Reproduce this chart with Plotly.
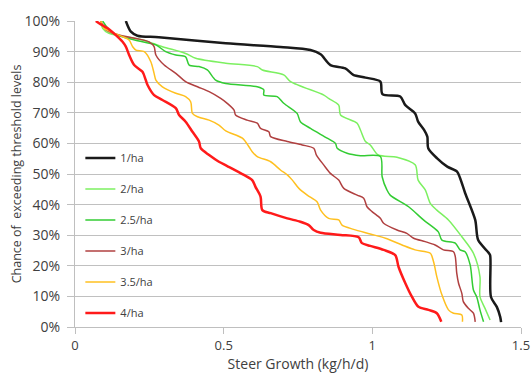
import plotly.graph_objects as go

# Series: steer growth (kg/h/d) vs chance of exceeding (%)
names = ["1/ha", "2/ha", "2.5/ha", "3/ha", "3.5/ha", "4/ha"]
colors = ["#1a1a1a", "#7CF060", "#33CC33", "#B04040", "#FFC020", "#FF1A1A"]
widths = [2.5, 1.5, 1.5, 1.5, 1.5, 2.5]

x_1ha = [0.171, 0.188, 0.210, 0.282, 0.507, 0.691, 0.792, 0.826, 0.859, 0.909, 0.936, 0.977, 1.027,
         1.034, 1.094, 1.111, 1.144, 1.154, 1.174, 1.185, 1.188, 1.218, 1.252, 1.285, 1.295, 1.312,
         1.346, 1.356, 1.389, 1.396, 1.399, 1.419, 1.430, 1.433]
y_1ha = [100, 96.5, 95.2, 94.7, 92.7, 91.5, 90.5, 89.1, 85.6, 84.5, 82.4, 81.5, 80.2,
         76.1, 75.3, 72.5, 69.8, 67.1, 64.4, 62.2, 58.4, 55.1, 52.4, 50.8, 48.7, 43.8,
         35.0, 28.4, 24.5, 23.5, 9.8, 6.5, 3.3, 1.6]

x_2ha = [0.087, 0.093, 0.114, 0.227, 0.294, 0.372, 0.406, 0.507, 0.613, 0.630, 0.702, 0.725, 0.837,
         0.853, 0.887, 0.893, 0.949, 0.960, 0.977, 0.993, 1.020, 1.083, 1.144, 1.154, 1.178, 1.195,
         1.217, 1.256, 1.301, 1.340, 1.362, 1.362, 1.379, 1.396]
y_2ha = [100, 97.6, 96.0, 93.8, 91.6, 89.4, 87.8, 86.2, 85.1, 84.0, 82.4, 80.2, 75.8,
         74.7, 72.5, 69.3, 66.6, 64.4, 60.6, 59.5, 56.2, 55.5, 53.0, 48.0, 44.8, 40.4,
         38.2, 35.0, 29.5, 24.1, 16.4, 9.9, 6.1, 2.3]

x_25ha = [0.093, 0.127, 0.227, 0.272, 0.305, 0.339, 0.372, 0.384, 0.417, 0.445, 0.473, 0.507, 0.613,
          0.635, 0.635, 0.680, 0.702, 0.747, 0.758, 0.792, 0.848, 0.876, 0.882, 0.915, 0.960, 1.027,
          1.033, 1.049, 1.060, 1.122, 1.172, 1.222, 1.234, 1.279, 1.295, 1.312, 1.329, 1.340, 1.351,
          1.362, 1.374]
y_25ha = [100, 96.0, 93.2, 92.2, 90.0, 88.9, 88.3, 85.6, 85.1, 84.0, 80.7, 79.6, 78.5,
          77.5, 75.8, 75.3, 73.1, 69.8, 67.1, 64.9, 61.7, 60.0, 58.4, 56.8, 56.0, 55.7,
          49.1, 44.8, 43.1, 39.3, 35.0, 31.1, 28.4, 27.4, 25.2, 24.6, 20.3, 12.1, 9.9,
          5.6, 1.7]

x_3ha = [0.087, 0.104, 0.149, 0.205, 0.249, 0.266, 0.272, 0.300, 0.339, 0.372, 0.412, 0.451, 0.490,
         0.512, 0.535, 0.540, 0.579, 0.613, 0.624, 0.652, 0.658, 0.714, 0.764, 0.803, 0.812, 0.837,
         0.859, 0.887, 0.904, 0.949, 0.971, 0.982, 0.999, 1.027, 1.038, 1.083, 1.116, 1.139, 1.178,
         1.211, 1.239, 1.273, 1.279, 1.284, 1.290, 1.301, 1.306, 1.323, 1.340, 1.346]
y_3ha = [100, 97.1, 95.4, 94.3, 93.2, 91.6, 88.9, 85.6, 82.9, 80.2, 78.5, 76.9, 74.7,
         73.1, 70.9, 69.3, 67.6, 66.6, 64.9, 63.8, 62.2, 60.6, 59.5, 58.4, 56.2, 52.9,
         50.2, 48.0, 45.3, 43.1, 42.1, 39.3, 37.7, 35.5, 33.9, 31.7, 30.6, 29.0, 27.9,
         26.8, 25.2, 24.6, 23.0, 17.5, 14.3, 11.0, 8.3, 6.1, 4.5, 1.7]

x_35ha = [0.087, 0.098, 0.160, 0.182, 0.194, 0.205, 0.233, 0.255, 0.266, 0.272, 0.294, 0.339, 0.372,
          0.389, 0.395, 0.412, 0.451, 0.484, 0.507, 0.563, 0.585, 0.596, 0.613, 0.658, 0.691, 0.714,
          0.731, 0.753, 0.781, 0.814, 0.826, 0.853, 0.887, 0.898, 0.937, 0.993, 1.044, 1.100, 1.144,
          1.195, 1.206, 1.217, 1.234, 1.256, 1.273, 1.301, 1.303]
y_35ha = [100, 97.6, 94.9, 93.8, 91.6, 90.5, 90.0, 86.7, 82.9, 80.7, 78.5, 76.4, 75.3,
          73.6, 69.8, 68.7, 67.6, 66.0, 64.1, 61.7, 58.9, 57.3, 55.7, 54.0, 51.3, 49.7,
          48.0, 45.3, 43.1, 40.9, 38.2, 35.5, 35.0, 33.3, 31.9, 30.4, 29.0, 26.8, 25.2,
          24.1, 21.3, 16.4, 10.5, 5.6, 4.5, 3.9, 1.7]

x_4ha = [0.070, 0.082, 0.110, 0.149, 0.160, 0.171, 0.182, 0.199, 0.227, 0.238, 0.244, 0.266, 0.294,
         0.339, 0.350, 0.372, 0.395, 0.417, 0.423, 0.451, 0.484, 0.512, 0.568, 0.596, 0.607, 0.624,
         0.630, 0.658, 0.714, 0.758, 0.786, 0.803, 0.826, 0.893, 0.954, 0.965, 0.993, 1.038, 1.077,
         1.088, 1.111, 1.133, 1.155, 1.189, 1.217, 1.232]
y_4ha = [100, 99.2, 97.6, 94.3, 93.2, 91.6, 88.9, 85.6, 83.4, 80.7, 79.1, 75.8, 74.2,
         71.5, 69.3, 67.1, 63.8, 60.6, 58.4, 56.2, 54.0, 52.6, 49.7, 48.0, 45.8, 42.6,
         38.2, 37.2, 35.5, 34.4, 33.3, 31.7, 30.8, 30.1, 29.3, 27.4, 26.5, 25.2, 23.5,
         19.7, 14.3, 9.9, 6.6, 5.6, 4.5, 1.7]

xs = [x_1ha, x_2ha, x_25ha, x_3ha, x_35ha, x_4ha]
ys = [y_1ha, y_2ha, y_25ha, y_3ha, y_35ha, y_4ha]

x_ticks = [0, 0.5, 1, 1.5]
x_ticktext = ["0", "0.5", "1", "1.5"]
y_ticks = [0, 10, 20, 30, 40, 50, 60, 70, 80, 90, 100]
y_ticktext = [f"{v}%" for v in y_ticks]

FONT = "Open Sans"
TXT = "#404040"

fig = go.Figure()
for i, n in enumerate(names):
    fig.add_trace(go.Scatter(
        x=xs[i], y=ys[i], mode="lines", name=n, legendgroup=n,
        line=dict(color=colors[i], width=widths[i], shape="spline", smoothing=0.8),
    ))

fig.update_layout(
    width=532, height=376, autosize=False,
    margin=dict(l=75, r=11, t=21, b=49),
    paper_bgcolor="white", plot_bgcolor="white",
    font=dict(family=FONT, color=TXT),
    showlegend=True,
    legend=dict(x=0.012, y=0.60, xanchor="left", yanchor="top",
                bgcolor="rgba(0,0,0,0)", font=dict(size=11, color=TXT),
                tracegroupgap=12, itemwidth=30),
    xaxis=dict(range=[0, 1.5], tickvals=x_ticks, ticktext=x_ticktext, automargin=False,
               showgrid=False, zeroline=False, showline=True, linecolor="#BFBFBF", linewidth=1,
               ticks="outside", ticklen=6, tickcolor="#BFBFBF", ticklabeloverflow="allow",
               tickfont=dict(size=13, family=FONT, color=TXT),
               title=dict(text="Steer Growth (kg/h/d)", font=dict(size=14, family=FONT, color=TXT), standoff=2)),
    yaxis=dict(range=[0, 100], tickvals=y_ticks, ticktext=y_ticktext, automargin=False,
               showgrid=True, gridcolor="#C0C0C0", gridwidth=1, zeroline=False,
               showline=True, linecolor="#BFBFBF", linewidth=1,
               ticks="outside", ticklen=7, tickcolor="#BFBFBF", ticklabelstandoff=4,
               tickfont=dict(size=14, family=FONT, color=TXT),
               title=dict(text="Chance of  exceeding threshold levels", font=dict(size=12.5, family=FONT, color=TXT), standoff=0)),
)

# remove the page's default 8px body margin so the figure fills the window
fig.write_html("out.html", config={"displayModeBar": False},
               post_script="document.body.style.margin='0';document.body.style.overflow='hidden';")
